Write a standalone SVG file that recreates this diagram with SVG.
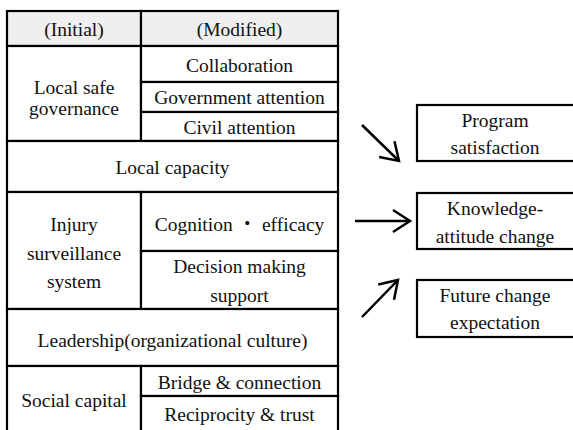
<svg xmlns="http://www.w3.org/2000/svg" width="573" height="430" viewBox="0 0 573 430">
<style>
.c{fill:#fff;stroke:#000;stroke-width:2.2}
.h{fill:#efefef;stroke:#000;stroke-width:2.2}
text{font-family:'Liberation Serif','Times New Roman',serif;font-size:19.5px;fill:#111;text-anchor:middle}
.dot{font-family:'Noto Sans CJK JP',sans-serif}
.a{stroke:#000;stroke-width:2.5;fill:none}
</style>
<defs>
<marker id="ah" markerUnits="userSpaceOnUse" viewBox="-19 -13 22 26" refX="0" refY="0" markerWidth="22" markerHeight="26" orient="auto">
<path d="M-17,-11 L0,0 L-17,11" fill="none" stroke="#000" stroke-width="2.5"/>
</marker>
</defs>
<rect width="573" height="430" fill="#fff"/>
<g id="hdr-initial"><rect class="h" x="7" y="11" width="134" height="35"/><text x="74" y="36">(Initial)</text></g>
<g id="hdr-modified"><rect class="h" x="141" y="11" width="197" height="35"/><text x="239.5" y="36">(Modified)</text></g>
<g id="local-safe-governance"><rect class="c" x="7" y="46" width="134" height="95"/><text x="74" y="94">Local safe</text><text x="74" y="115">governance</text></g>
<g id="collaboration"><rect class="c" x="141" y="46" width="197" height="36"/><text x="239.5" y="72">Collaboration</text></g>
<g id="government-attention"><rect class="c" x="141" y="82" width="197" height="30"/><text x="239.5" y="104">Government attention</text></g>
<g id="civil-attention"><rect class="c" x="141" y="112" width="197" height="29"/><text x="239.5" y="134">Civil attention</text></g>
<g id="local-capacity"><rect class="c" x="7" y="141" width="331" height="51"/><text x="172.5" y="174">Local capacity</text></g>
<g id="injury-surveillance"><rect class="c" x="7" y="192" width="134" height="117"/><text x="74" y="231">Injury</text><text x="74" y="260">surveillance</text><text x="74" y="288">system</text></g>
<g id="cognition"><rect class="c" x="141" y="192" width="197" height="59"/><text x="239.5" y="231">Cognition <tspan class="dot">・</tspan> efficacy</text></g>
<g id="decision"><rect class="c" x="141" y="251" width="197" height="58"/><text x="239.5" y="273">Decision making</text><text x="239.5" y="302">support</text></g>
<g id="leadership"><rect class="c" x="7" y="309" width="331" height="57"/><text x="172.5" y="347">Leadership(organizational culture)</text></g>
<g id="social-capital"><rect class="c" x="7" y="366" width="134" height="66"/><text x="74" y="407">Social capital</text></g>
<g id="bridge"><rect class="c" x="141" y="366" width="197" height="30"/><text x="239.5" y="389">Bridge &amp; connection</text></g>
<g id="reciprocity"><rect class="c" x="141" y="396" width="197" height="36"/><text x="239.5" y="421">Reciprocity &amp; trust</text></g>
<g id="program-satisfaction"><rect class="c" x="417" y="105" width="160" height="56"/><text x="495" y="127">Program</text><text x="495" y="154">satisfaction</text></g>
<g id="knowledge-attitude"><rect class="c" x="417" y="193" width="160" height="56"/><text x="495" y="215">Knowledge-</text><text x="495" y="243">attitude change</text></g>
<g id="future-change"><rect class="c" x="417" y="280" width="160" height="57"/><text x="495" y="302">Future change</text><text x="495" y="329">expectation</text></g>
<g id="connectors">
<line class="a" x1="362" y1="125" x2="399" y2="161" marker-end="url(#ah)"/>
<line class="a" x1="355" y1="221" x2="410" y2="221" marker-end="url(#ah)"/>
<line class="a" x1="362" y1="317" x2="398" y2="280" marker-end="url(#ah)"/>
</g>
</svg>
